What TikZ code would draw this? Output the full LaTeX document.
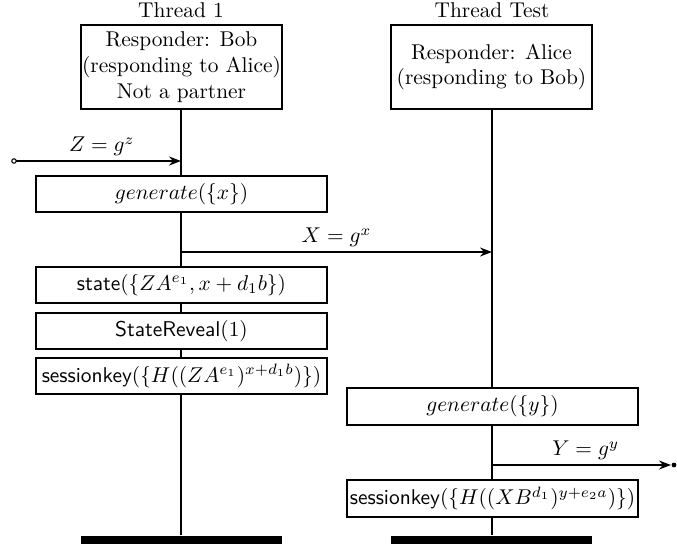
\documentclass[tikz,border=0pt]{standalone}
\usetikzlibrary{arrows.meta}
\begin{document}
\begin{tikzpicture}[x=0.4673pt,y=-0.4673pt,
  line width=0.6pt,
  threadbox/.style={draw,fill=white,inner sep=0pt,align=center,
    minimum width=93.93pt,minimum height=39.25pt},
  eventbox/.style={draw,fill=white,inner sep=0pt,
    minimum width=135.98pt,minimum height=16.82pt},
  endbar/.style={fill=black,inner sep=0pt,minimum width=93.93pt,minimum height=4.67pt},
  msg/.style={-{Stealth[length=5.6pt,width=4.2pt,inset=1.8pt]}},
  msglabel/.style={above=-1.3pt}
]
\useasboundingbox (0,0) rectangle (677,543);

% thread titles
\node (t1) at (181,10) {Thread 1};
\node (t2) at (492,10) {Thread Test};

% thread heads
\node[threadbox] (bob) at (181.5,67) {Responder: Bob\\(responding to Alice)\\Not a partner};
\node[threadbox] (alice) at (491.5,67) {Responder: Alice\\(responding to Bob)};

% events of thread 1
\node[eventbox] (gx) at (181.5,194) {$generate(\{x\})$};
\node[eventbox] (st) at (181.5,285) {$\textsf{state}(\{ZA^{e_1}, x + d_1b\})$};
\node[eventbox] (sr) at (181.5,331) {$\textsf{StateReveal}(1)$};
\node[eventbox] (sk1) at (181.5,376) {$\textsf{sessionkey}(\{H((ZA^{e_1})^{x+d_1b})\})$};

% events of the test thread
\node[eventbox,minimum height=17.3pt] (gy) at (492.5,406.5) {$generate(\{y\})$};
\node[eventbox,minimum height=17.3pt] (sk2) at (492.5,498.5) {$\textsf{sessionkey}(\{H((XB^{d_1})^{y+e_2a})\})$};

% end of threads
\node[endbar] (end1) at (181.5,540.5) {};
\node[endbar] (end2) at (491.5,540.5) {};

% lifelines
\draw (bob.south -| 181,0) -- (gx.north -| 181,0);
\draw (gx.south -| 181,0) -- (st.north -| 181,0);
\draw (st.south -| 181,0) -- (sr.north -| 181,0);
\draw (sr.south -| 181,0) -- (sk1.north -| 181,0);
\draw (sk1.south -| 181,0) -- (end1.north -| 181,0);
\draw (alice.south -| 492,0) -- (gy.north -| 492,0);
\draw (gy.south -| 492,0) -- (sk2.north -| 492,0);
\draw (sk2.south -| 492,0) -- (end2.north -| 492,0);

% messages
\coordinate (zsrc) at (14,161);
\coordinate (zdst) at (181,161);
\coordinate (xsrc) at (181,252);
\coordinate (xdst) at (492,252);
\coordinate (ysrc) at (492,465);
\coordinate (ydst) at (671,465);

\draw[msg] (zsrc) -- node[msglabel,xshift=2pt] {$Z = g^z$} (zdst);
\draw[line width=0.5pt,fill=white] (zsrc) circle (2.2);
\draw[msg] (xsrc) -- node[msglabel] {$X = g^x$} (xdst);
\draw[msg] (ysrc) -- node[msglabel,xshift=2pt] {$Y = g^y$} (ydst);
\fill (ydst) ++(3,0) circle (2.4);
\end{tikzpicture}
\end{document}
